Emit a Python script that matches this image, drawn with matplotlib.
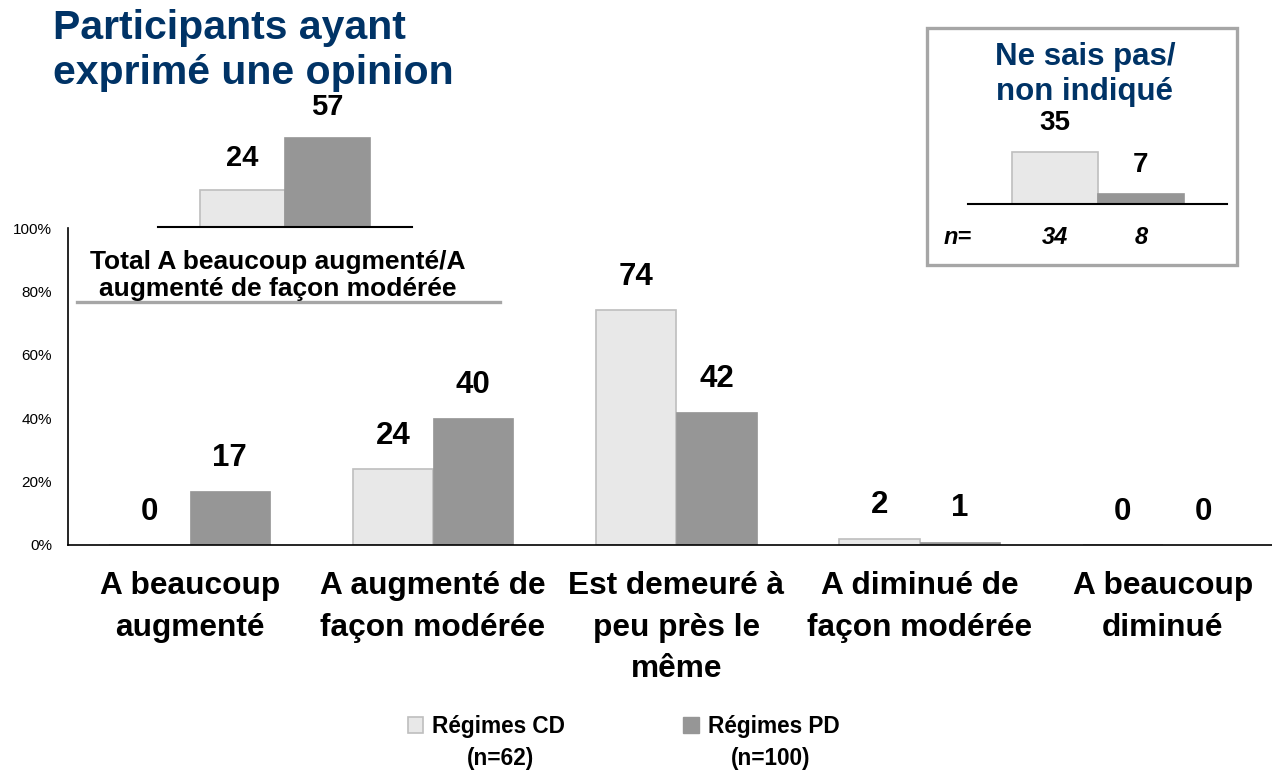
import matplotlib
matplotlib.use("Agg")
import matplotlib.pyplot as plt
from matplotlib.lines import Line2D
from matplotlib.patches import Patch, Rectangle
import numpy as np

plt.rcParams['font.family'] = ['Liberation Sans', 'DejaVu Sans']

# ---------------- data ----------------
categories = ["A beaucoup\naugmenté", "A augmenté de\nfaçon modérée",
              "Est demeuré à\npeu près le\nmême", "A diminué de\nfaçon modérée",
              "A beaucoup\ndiminué"]
cd_values = [0, 24, 74, 2, 0]
pd_values = [17, 40, 42, 1, 0]
series_names = ["Régimes CD", "Régimes PD"]
series_n = ["(n=62)", "(n=100)"]
y_ticks = [0, 20, 40, 60, 80, 100]

total_values = [24, 57]
total_label = "Total A beaucoup augmenté/A\naugmenté de façon modérée"

dk_title = "Ne sais pas/\nnon indiqué"
dk_values = [35, 7]
dk_n = [34, 8]

title = "Participants ayant\nexprimé une opinion"

# ---------------- style ----------------
W, H = 1272, 772
CD_FACE, CD_EDGE = "#E8E8E8", "#BEBEBE"
PD_FACE = "#969696"
NAVY = "#003366"
GRAY_LINE = "#A6A6A6"

def fx(px):
    return px / W

def fy(py):
    return 1 - py / H

fig = plt.figure(figsize=(W / 100, H / 100), dpi=100)

# ---------------- main chart ----------------
ax = fig.add_axes([fx(68), fy(545), (W - 68) / W, (545 - 228) / H])
x = np.arange(len(categories))
bw = 0.33
ax.bar(x - bw / 2, cd_values, bw, color=CD_FACE, edgecolor=CD_EDGE, linewidth=1.2)
ax.bar(x + bw / 2, pd_values, bw, color=PD_FACE, edgecolor=PD_FACE, linewidth=0.5)
for xi, v in zip(x - bw / 2, cd_values):
    ax.annotate(str(v), (xi, v), xytext=(0, 24), textcoords='offset points',
                ha='center', va='center', fontsize=22.5, fontweight='bold')
for xi, v in zip(x + bw / 2, pd_values):
    ax.annotate(str(v), (xi, v), xytext=(0, 24), textcoords='offset points',
                ha='center', va='center', fontsize=22.5, fontweight='bold')

ax.set_xlim(-0.5, 4.448)
ax.set_ylim(0, 100)
ax.set_yticks(y_ticks)
ax.set_yticklabels([f"{t}%" for t in y_ticks], fontsize=11)
ax.set_xticks(x)
ax.set_xticklabels(categories, fontsize=22.8, fontweight='bold', linespacing=1.5)
ax.tick_params(axis='y', length=0, pad=11.5)
ax.tick_params(axis='x', length=0, pad=19)
for s in ['top', 'right']:
    ax.spines[s].set_visible(False)
for s in ['left', 'bottom']:
    ax.spines[s].set_linewidth(1.2)
    ax.spines[s].set_color('black')
ax.patch.set_visible(False)

# ---------------- title ----------------
fig.text(fx(53), fy(9), title, ha='left', va='top', fontsize=29.5,
         fontweight='bold', color=NAVY, linespacing=1.22)

# ---------------- total inset (top-left) ----------------
ax_t = fig.add_axes([fx(158), fy(227), 254 / W, 100 / H])
ax_t.bar([-0.5, 0.5], total_values, 1.0, color=[CD_FACE, PD_FACE],
         edgecolor=[CD_EDGE, PD_FACE], linewidth=1.2)
for xi, v in zip([-0.5, 0.5], total_values):
    ax_t.annotate(str(v), (xi, v), xytext=(0, 22.5), textcoords='offset points',
                  ha='center', va='center', fontsize=21, fontweight='bold')
ax_t.set_xlim(-1.494, 1.494)
ax_t.set_ylim(0, 100 / 1.56)
ax_t.set_xticks([]); ax_t.set_yticks([])
for s in ['top', 'right', 'left']:
    ax_t.spines[s].set_visible(False)
ax_t.spines['bottom'].set_linewidth(1.5)
ax_t.patch.set_visible(False)

fig.text(fx(278), fy(250), total_label, ha='center', va='top', fontsize=19,
         fontweight='bold', linespacing=1.17)
fig.add_artist(Line2D([fx(77), fx(500)], [fy(302), fy(302)], color=GRAY_LINE,
                      linewidth=2.4, transform=fig.transFigure))

# ---------------- don't know box (top-right) ----------------
fig.add_artist(Rectangle((fx(927), fy(265)), 310 / W, 237 / H, fill=False,
                         edgecolor=GRAY_LINE, linewidth=2.4,
                         transform=fig.transFigure))
fig.text(fx(1085), fy(42), dk_title, ha='center', va='top', fontsize=22.5,
         fontweight='bold', color=NAVY, linespacing=1.2)
ax_d = fig.add_axes([fx(968), fy(204), 259 / W, 60 / H])
ax_d.bar([-0.5, 0.5], dk_values, 1.0, color=[CD_FACE, PD_FACE],
         edgecolor=[CD_EDGE, PD_FACE], linewidth=1.2)
for xi, v, n in zip([-0.5, 0.5], dk_values, dk_n):
    ax_d.annotate(str(v), (xi, v), xytext=(0, 20.5), textcoords='offset points',
                  ha='center', va='center', fontsize=20, fontweight='bold')
    ax_d.annotate(str(n), (xi, 0), xytext=(0, -24), textcoords='offset points',
                  ha='center', va='center', fontsize=17, fontweight='bold',
                  style='italic')
ax_d.set_xlim(-130 / 86, 129 / 86)
ax_d.set_ylim(0, 40)
ax_d.set_xticks([]); ax_d.set_yticks([])
for s in ['top', 'right', 'left']:
    ax_d.spines[s].set_visible(False)
ax_d.spines['bottom'].set_linewidth(1.5)
ax_d.patch.set_visible(False)
fig.text(fx(958), fy(237), "n=", ha='center', va='center', fontsize=17,
         fontweight='bold', style='italic')

# ---------------- legend ----------------
handles = [Patch(facecolor=CD_FACE, edgecolor=CD_EDGE, linewidth=1.2),
           Patch(facecolor=PD_FACE, edgecolor=PD_FACE)]
fig.legend(handles, series_names, loc='upper left',
           bbox_to_anchor=(fx(408), fy(715)), ncol=2, frameon=False,
           borderpad=0, borderaxespad=0, handlelength=0.68, handleheight=0.68,
           handletextpad=0.4, columnspacing=5.2,
           prop={'weight': 'bold', 'size': 16.3})
for xc, t in zip([501, 771], series_n):
    fig.text(fx(xc), fy(759), t, ha='center', va='center', fontsize=16.3,
             fontweight='bold')

fig.savefig("out.png", dpi=100)
